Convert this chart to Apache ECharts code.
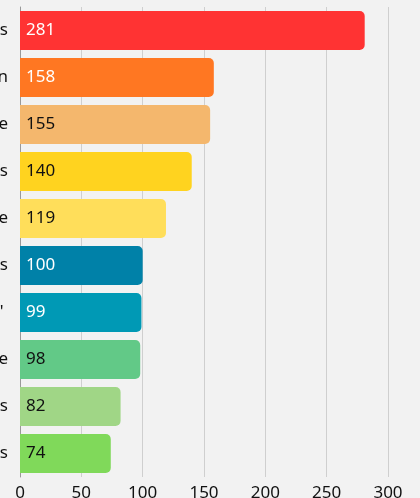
<!DOCTYPE html>
<html>
<head>
<meta charset="utf-8">
<script src="https://cdn.jsdelivr.net/npm/echarts@6/dist/echarts.min.js"></script>
<style>
  html, body { margin: 0; padding: 0; background: #f2f2f2; }
  #chart { width: 420px; height: 498px; }
</style>
</head>
<body>
<div id="chart"></div>
<script>
var categories = ['Apples', 'Melon', 'Orange', 'Grapes', 'Pineapple', 'Lemons', "Kids' ", 'Lime', 'Peaches', 'Cherries'];
var values = [281, 158, 155, 140, 119, 100, 99, 98, 82, 74];
var barColors = ['#ff3333', '#ff7722', '#f4b76d', '#ffd31f', '#ffde5a', '#0081a8', '#0099b5', '#62c987', '#a0d686', '#80d95a'];
var labelColors = ['#ffffff', '#ffffff', '#111111', '#111111', '#111111', '#ffffff', '#ffffff', '#111111', '#111111', '#111111'];
var xTicks = [0, 50, 100, 150, 200, 250, 300];

var font = 'Noto Sans';
var chart = echarts.init(document.getElementById('chart'));

var data = values.map(function (v, i) {
    return {
        value: v,
        itemStyle: { color: barColors[i] },
        label: { color: labelColors[i] }
    };
});

chart.setOption({
    backgroundColor: '#f2f2f2',
    animation: false,
    grid: { left: 20, right: 32, top: 7, bottom: 21, containLabel: false, outerBoundsMode: 'none' },
    xAxis: {
        type: 'value',
        min: xTicks[0],
        max: xTicks[xTicks.length - 1],
        interval: 50,
        axisLine: { show: false },
        axisTick: { show: false },
        splitLine: { lineStyle: { color: '#cfcfcf', width: 1 } },
        axisLabel: { color: '#111', fontFamily: font, fontSize: 17, margin: 8 }
    },
    yAxis: {
        type: 'category',
        data: categories,
        inverse: true,
        axisLine: { show: true, lineStyle: { color: '#999', width: 1 } },
        axisTick: { show: false },
        axisLabel: { color: '#111', fontFamily: font, fontSize: 17, margin: 12 }
    },
    series: [{
        type: 'bar',
        data: data,
        barWidth: 39,
        itemStyle: { borderRadius: [0, 5, 5, 0] },
        label: {
            show: true,
            position: 'insideLeft',
            distance: 6,
            fontFamily: font,
            fontSize: 17
        }
    }]
});
</script>
</body>
</html>
